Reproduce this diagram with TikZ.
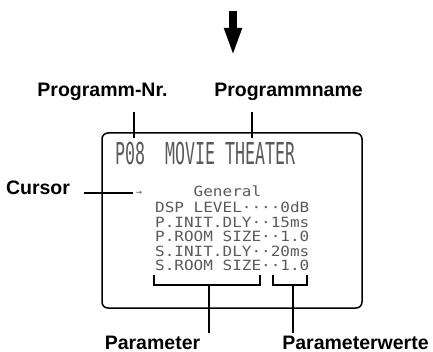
\documentclass[tikz,border=0pt]{standalone}
\usepackage{fontspec,graphicx}
\setmainfont{Liberation Sans}
\newfontfamily\lcdfont{DejaVu Sans Mono}
\usetikzlibrary{arrows.meta}
\definecolor{lcdtext}{HTML}{5A5A5A}
\tikzset{lab/.style={font=\bfseries\fontsize{19.5}{22}\selectfont,inner sep=0pt,outer sep=3pt},lcdline/.style={anchor=base west,inner sep=0pt,text=lcdtext,font=\lcdfont\fontsize{16}{16}\selectfont},lcdbox/.style={draw,line width=1.5pt,rounded corners=6pt,minimum width=260pt,minimum height=175pt,inner sep=0pt},lead/.style={line width=1.6pt},bigarrow/.style={-{Triangle[length=28pt,width=16pt]},line width=8pt}}

\begin{document}
\begin{tikzpicture}[x=1pt,y=-1pt]
\useasboundingbox (0,0) rectangle (433,352);
\draw[bigarrow] (233,11) -- (233,56);
% labels round the display
\node[lab,anchor=base] (nr) at (102.5,97) {Programm-Nr.};
\node[lab,anchor=base] (name) at (288.5,97) {Programmname};
\node[lab,anchor=base east] (cursor) at (73,195) {Cursor};
\node[lab,anchor=base] (param) at (152.5,349) {Parameter};
\node[lab,anchor=base] (paramw) at (355.5,349) {Parameterwerte};
% display
\node[lcdbox] (lcd) at (232,220.5) {};
\node[lcdline] (title) at (115,165) {\fontsize{16.6}{16}\selectfont\scalebox{1}[1.82]{P08~~MOVIE~THEATER}};
\node[lcdline,anchor=west,outer sep=3pt,font=\lcdfont\fontsize{10}{10}\selectfont] (curarr) at (133,193) {→};
\node[lcdline] (l0) at (155,197) {\scalebox{1}[0.88]{~~~~General}};
\node[lcdline] (l1) at (155,213) {\scalebox{1}[0.88]{DSP LEVEL····0dB}};
\node[lcdline] (l2) at (155,227.4) {\scalebox{1}[0.88]{P.INIT.DLY··15ms}};
\node[lcdline] (l3) at (155,241.8) {\scalebox{1}[0.88]{P.ROOM SIZE··1.0}};
\node[lcdline] (l4) at (155,256.2) {\scalebox{1}[0.88]{S.INIT.DLY··20ms}};
\node[lcdline] (l5) at (155,270.6) {\scalebox{1}[0.88]{S.ROOM SIZE··1.0}};
\coordinate (nrend) at (134,138);
\coordinate (nameend) at (252,138);
\coordinate (pmid) at (209,285);
\coordinate (wmid) at (293,285);
\draw[lead] (nr.south -| nrend) ++(0,8) -- (nrend);
\draw[lead] (name.south -| nameend) ++(0,8) -- (nameend);
\draw[lead] (cursor.base east) ++(11,-2) -- (curarr.west);
\draw[lead] (154,275) |- (260,285) -- (260,275);
\draw[lead] (273,275) |- (307,285) -- (307,275);
\draw[lead] (pmid) -- (pmid |- param.north);
\draw[lead] (wmid) -- (wmid |- paramw.north);
\end{tikzpicture}
\end{document}
